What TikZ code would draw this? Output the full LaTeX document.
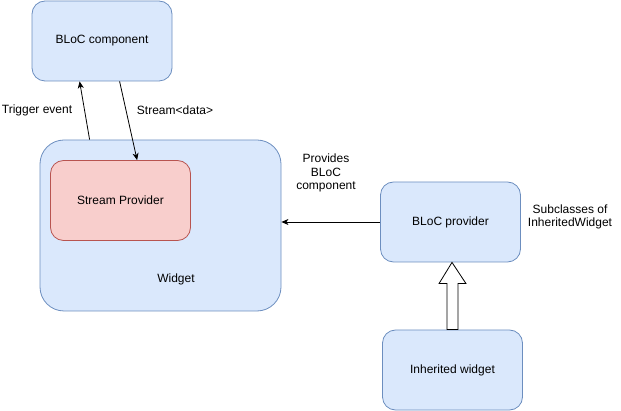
\documentclass[tikz,border=0pt]{standalone}
\usepackage{fontspec}
\setmainfont{Liberation Sans}
\usepackage{tikz}
\usetikzlibrary{positioning}
\usetikzlibrary{calc}
\usetikzlibrary{arrows.meta}
\definecolor{bluefill}{HTML}{DAE8FC}
\definecolor{blueline}{HTML}{6C8EBF}
\definecolor{redfill}{HTML}{F8CECC}
\definecolor{redline}{HTML}{B85450}

\begin{document}
\begin{tikzpicture}[x=1pt,y=-1pt,line width=0.8pt,
    font=\fontsize{12}{13.5}\selectfont,
    box/.style={draw=blueline,fill=bluefill,rounded corners=13pt,minimum width=140pt,minimum height=80pt,inner sep=0pt},
    redbox/.style={box,draw=redline,fill=redfill},
    txt/.style={align=center,inner sep=0pt},
    arr/.style={-{Stealth[length=7pt,width=6pt,inset=2pt]}}]
  \useasboundingbox (0,0) rectangle (621,411);

  \node [box]   (bloc)   at (102,41)    {BLoC component};
  \node [box,minimum width=241pt,minimum height=171pt,rounded corners=24pt] (widget) at (160.5,225.5) {};
  \node [redbox]   (sp) at (120.5,200.5)   {Stream Provider};
  \node [txt]   (wlabel) at (176,279)   {Widget};
  \node [box]   (prov)   at (450.5,222)   {BLoC provider};
  \node [box]   (inh)    at (452.5,370)   {Inherited widget};

  \node [txt]   (trig)   at (37,110)   {Trigger event};
  \node [txt]   (strm)   at (175,110)   {Stream<data>};
  \node [txt]   (provides) at (326,173)   {Provides\\BLoC\\component};
  \node [txt,font=\fontsize{12}{12.5}\selectfont]   (subcl) at (570,217)   {Subclasses of\\InheritedWidget};

  \draw [arr] ($(widget.north west)+(50,0)$) -- ($(bloc.south west)+(48,0)$);
  \draw [arr] ($(bloc.south west)+(88,0)$) -- ($(sp.north west)+(87,0)$);
  \draw [arr] (prov.west) -- (prov.west -| widget.east);

  % hollow arrow
  \draw [line width=0.8pt,fill=white]
    ($(inh.north)+(-5.5,0)$) -- ++(0,-46) -- ++(-8,0) -- ($(prov.south)+(1.5,0)$)
    -- ($(inh.north)+(13.5,-46)$) -- ++(-8,0) -- ++(0,46) -- cycle;
\end{tikzpicture}
\end{document}
